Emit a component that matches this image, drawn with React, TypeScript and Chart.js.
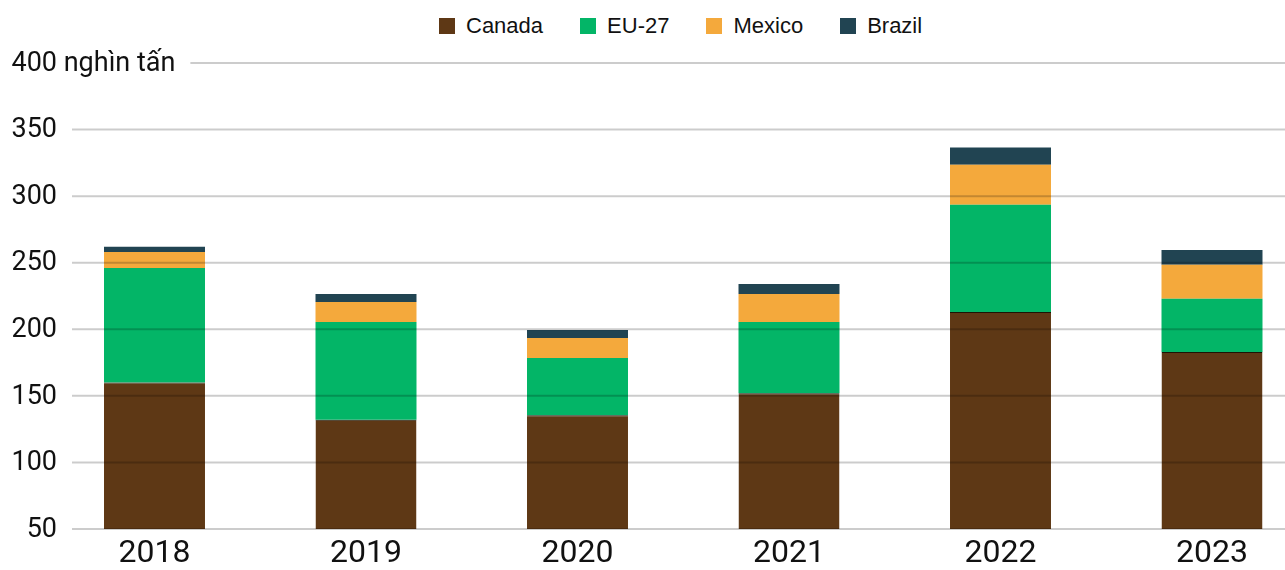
import React, { useEffect, useRef } from "react";
import { Chart, registerables } from "chart.js";

Chart.register(...registerables);

const categories = ["2018", "2019", "2020", "2021", "2022", "2023"];
const canada = [160, 132, 135.5, 152, 213, 183];
const eu27 = [86, 73.5, 43, 53.5, 80.5, 40];
const mexico = [12, 15, 15, 21, 30, 25.5];
const brazil = [4, 6, 6, 7.5, 13, 11];

const seriesNames = ["Canada", "EU-27", "Mexico", "Brazil"];
const seriesColors = ["#5e3815", "#03b567", "#f4a93c", "#214452"];

const Y_MIN = 50;
const Y_MAX = 400;
const Y_STEP = 50;
const UNIT = " nghìn tấn";

const CANVAS_W = 1340;
const CANVAS_H = 570;
const LABEL_RIGHT = 57;

const gridLabelPlugin = {
  id: "gridLabels",
  afterDatasetsDraw(chart: any) {
    const y = chart.scales.y;
    const ctx = chart.ctx as CanvasRenderingContext2D;
    ctx.save();
    ctx.font = "27px Roboto";
    ctx.fillStyle = "#111111";
    ctx.textBaseline = "middle";
    y.ticks.forEach((t: any) => {
      const py = y.getPixelForValue(t.value);
      const num = String(t.value);
      ctx.textAlign = "right";
      ctx.fillText(num, LABEL_RIGHT, py + 1);
      let end = LABEL_RIGHT;
      if (t.value === Y_MAX) {
        ctx.textAlign = "left";
        ctx.fillText(UNIT, LABEL_RIGHT, py + 1);
        end += ctx.measureText(UNIT).width;
      }
      ctx.strokeStyle = "rgba(0,0,0,0.2)";
      ctx.lineWidth = 2;
      ctx.beginPath();
      ctx.moveTo(end + 15, py);
      ctx.lineTo(chart.width, py);
      ctx.stroke();
    });
    ctx.restore();
  },
};

export default function App() {
  const ref = useRef<HTMLCanvasElement | null>(null);

  useEffect(() => {
    if (!ref.current) return;
    const seriesData = [canada, eu27, mexico, brazil];
    const chart = new Chart(ref.current, {
      type: "bar",
      data: {
        labels: categories,
        datasets: seriesData.map((d, i) => ({
          label: seriesNames[i],
          data: d,
          backgroundColor: seriesColors[i],
          borderColor: i === 0 ? "#1c1405" : seriesColors[i],
          borderWidth: i === 0 ? { top: 1, left: 0, right: 0, bottom: 0 } : 0,
          borderSkipped: false,
          barPercentage: 0.4775,
          categoryPercentage: 1,
        })),
      },
      options: {
        responsive: false,
        animation: false,
        layout: {
          padding: { left: 48.75, right: CANVAS_W - 1317.75, top: 63, bottom: 0 },
        },
        plugins: {
          legend: { display: false },
          tooltip: { enabled: false },
        },
        scales: {
          x: {
            stacked: true,
            grid: { display: false, drawTicks: false },
            border: { display: false },
            ticks: {
              color: "#111111",
              font: { family: "Roboto", size: 32 },
              padding: 6,
              maxRotation: 0,
            },
            afterFit: (s: any) => {
              s.height = 41;
            },
          },
          y: {
            stacked: true,
            display: false,
            min: Y_MIN,
            max: Y_MAX,
            ticks: { stepSize: Y_STEP },
          },
        },
      },
      plugins: [gridLabelPlugin],
    });
    return () => chart.destroy();
  }, []);

  return (
    <div
      style={{
        position: "absolute",
        left: 0,
        top: 0,
        width: 1285,
        height: 570,
        overflow: "hidden",
        background: "#ffffff",
      }}
    >
      <div
        style={{
          position: "absolute",
          left: 439,
          top: 15,
          display: "flex",
          alignItems: "center",
          gap: 37,
          fontFamily: '"Liberation Sans", Arial, sans-serif',
          fontSize: 22,
          lineHeight: "22px",
          color: "#111111",
          whiteSpace: "nowrap",
        }}
      >
        {seriesNames.map((n, i) => (
          <div key={n} style={{ display: "flex", alignItems: "center", gap: 11 }}>
            <span
              style={{
                display: "inline-block",
                width: 16,
                height: 16,
                background: seriesColors[i],
              }}
            />
            <span>{n}</span>
          </div>
        ))}
      </div>
      <canvas
        ref={ref}
        width={CANVAS_W}
        height={CANVAS_H}
        style={{ position: "absolute", left: 0, top: 0, width: CANVAS_W, height: CANVAS_H }}
      />
    </div>
  );
}
